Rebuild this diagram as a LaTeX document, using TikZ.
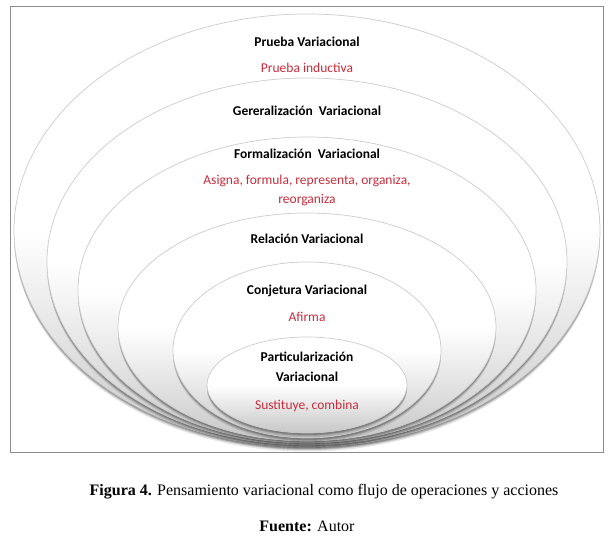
\documentclass[tikz,border=0pt]{standalone}
\usepackage{fontspec}
\setmainfont{Carlito}
\newfontfamily\piefont{Liberation Serif}
\usetikzlibrary{positioning,shapes.geometric,shadows}
\definecolor{rojoaccion}{RGB}{200,45,60}

\begin{document}
\begin{tikzpicture}[x=1pt,y=1pt,
		node distance=10pt and 0pt,
		capa/.style={ellipse,draw=black!20,line width=0.7pt,inner sep=0pt,outer sep=0pt,
			top color=white,bottom color=black!22,middle color=white,
			general shadow={fill=black,opacity=.12,shadow yshift=-1pt},
			general shadow={fill=black,opacity=.15,shadow yshift=-2pt},
			general shadow={fill=black,opacity=.15,shadow yshift=-3pt},
			general shadow={fill=black,opacity=.10,shadow yshift=-4.5pt}},
		titulo/.style={font=\fontsize{13.5}{15}\selectfont\bfseries,text height=9.5pt,text depth=3pt,inner sep=0pt},
		accion/.style={titulo,font=\fontsize{13.5}{15}\selectfont,text=rojoaccion},
		pie/.style={font=\piefont\fontsize{16}{18}\selectfont,inner sep=0pt}
		]
		\fill[white] (0,0) rectangle (614,544);
		\useasboundingbox (0,0) rectangle (614,544);
		\draw[black!45,line width=1pt] (10,91) rectangle (603,537);
		% capas, de fuera hacia dentro
		\node[capa,minimum width=586pt,minimum height=433pt] (e1) at (307,313.5) {};
		\node[capa,minimum width=520pt,minimum height=367pt] (e2) at (307,282.5) {};
		\node[capa,minimum width=458pt,minimum height=306pt] (e3) at (307,254) {};
		\node[capa,minimum width=378pt,minimum height=228pt] (e4) at (307,217) {};
		\node[capa,minimum width=268pt,minimum height=176pt] (e5) at (307,194) {};
		\node[capa,minimum width=200pt,minimum height=96pt] (e6) at (307,159) {};
		% textos
		\node[titulo,below=22.75pt of e1.north] (t1) {Prueba Variacional};
		\node[accion,below=13.5pt of t1] (a1) {Prueba inductiva};
		\node[titulo,below=27.75pt of e2.north] (t2) {Gereralización~ Variacional};
		\node[titulo,below=11.75pt of e3.north] (t3) {Formalización~ Variacional};
		\node[accion,below=13.5pt of t3] (a3) {Asigna, formula, representa, organiza,};
		\node[accion,below=5.5pt of a3] (a3b) {reorganiza};
		\node[titulo,below=20.75pt of e4.north] (t4) {Relación Variacional};
		\node[titulo,below=22.75pt of e5.north] (t5) {Conjetura Variacional};
		\node[accion,below=14.5pt of t5] (a5) {Afirma};
		\node[titulo,below=14.75pt of e6.north] (t6) {Particularización};
		\node[titulo,below=7.5pt of t6] (t6b) {Variacional};
		\node[accion,below=14.5pt of t6b] (a6) {Sustituye, combina};
		% pie de figura
		\node[pie] (fig) at (324,52) {\textbf{Figura 4.} Pensamiento variacional como flujo de operaciones y acciones};
		\node[pie] (fte) at (307,18) {\textbf{Fuente:} Autor};
	\end{tikzpicture}
\end{document}
